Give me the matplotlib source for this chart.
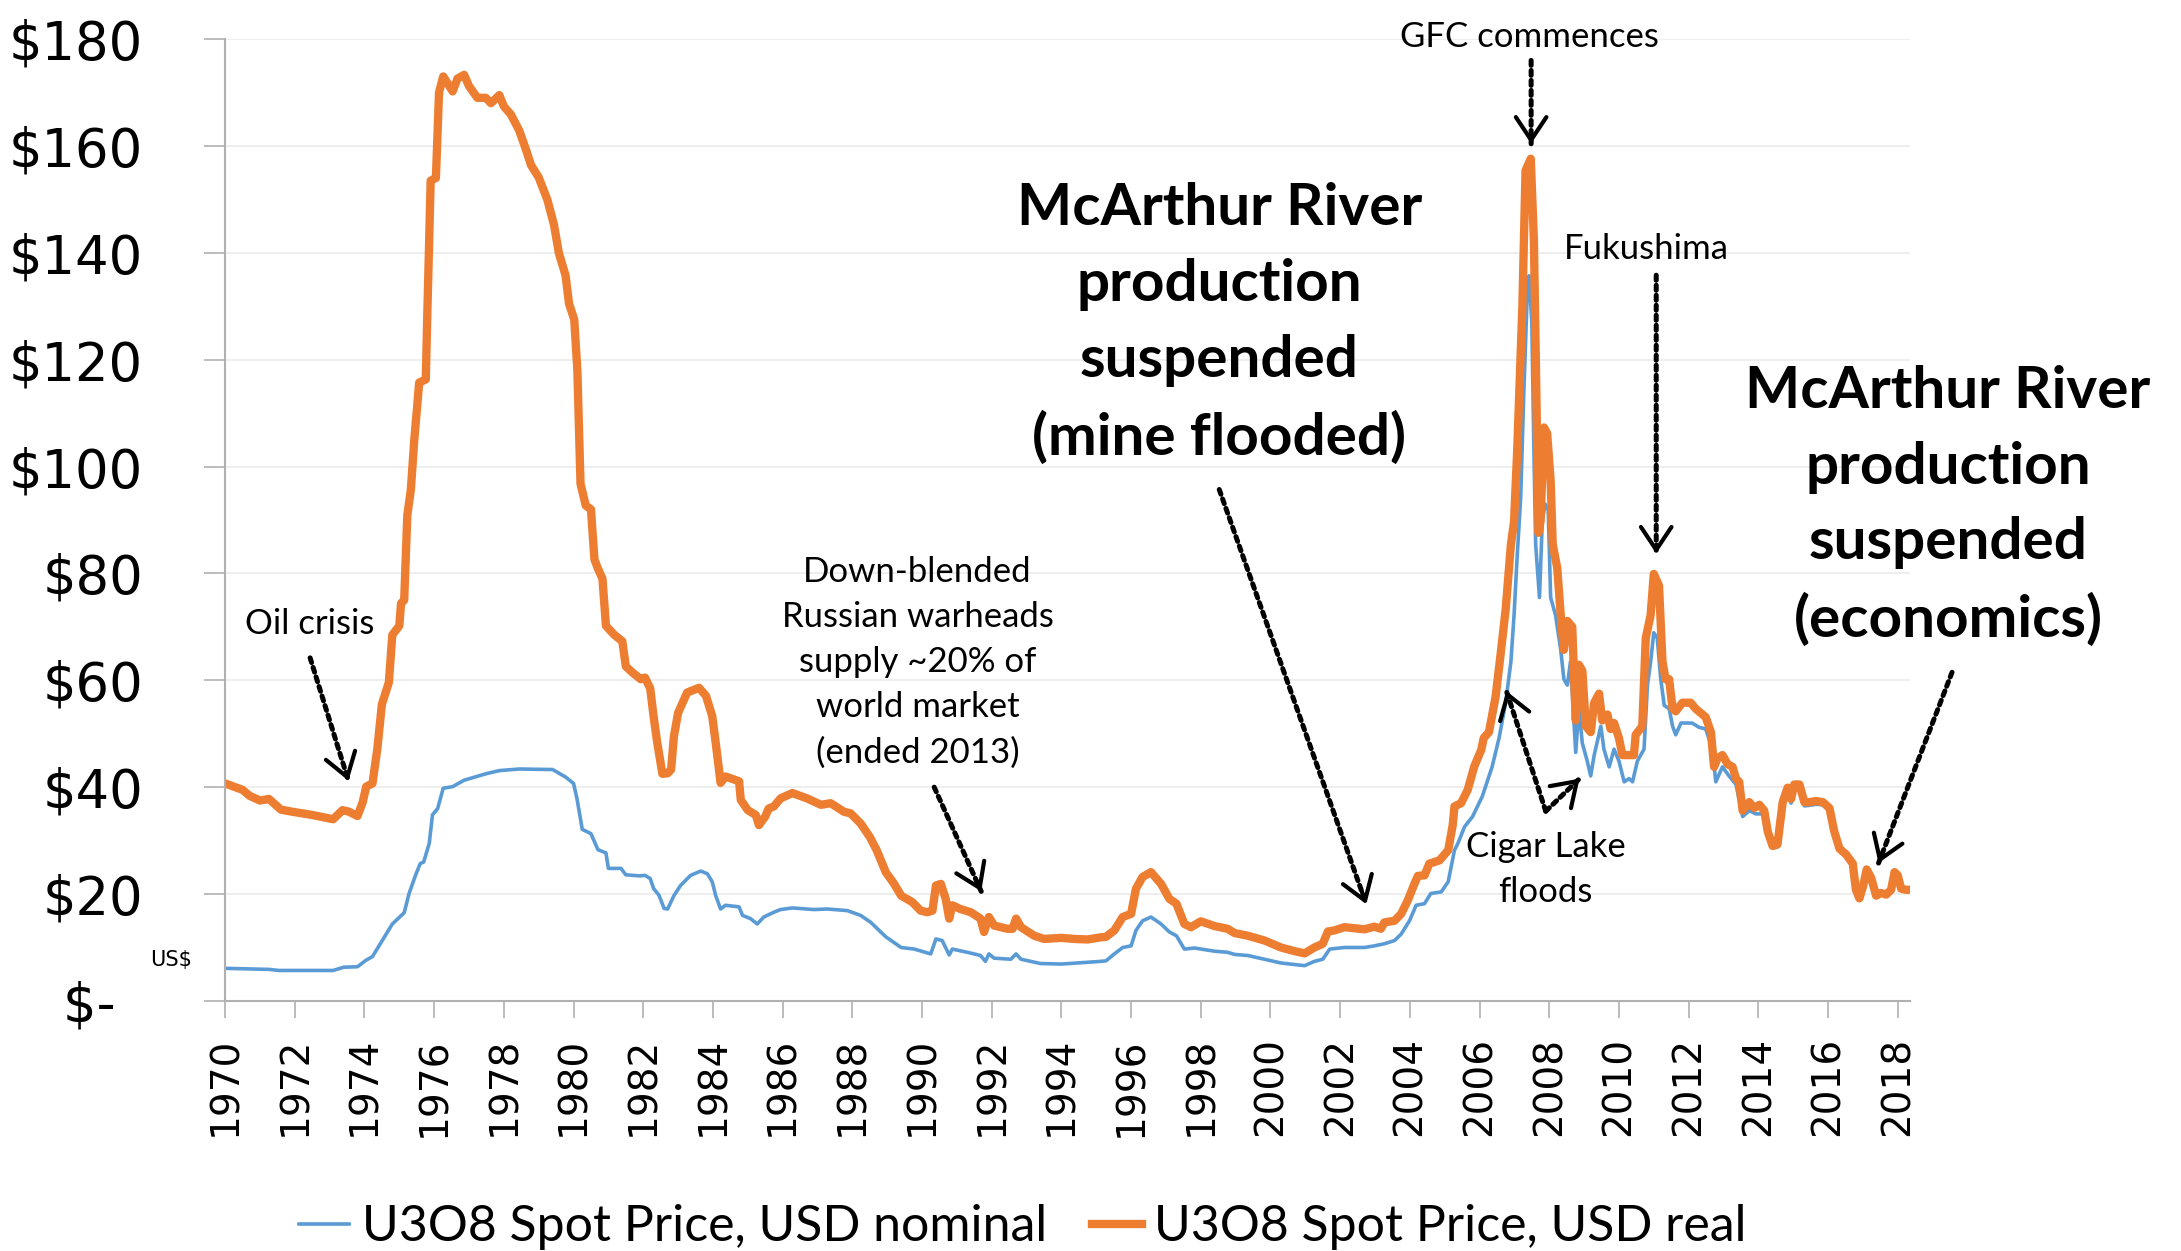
"""U3O8 spot price, nominal vs real, 1970-2018, with event annotations."""
import matplotlib

matplotlib.use("Agg")
import matplotlib.pyplot as plt
from matplotlib.ticker import FixedLocator

# ---- data ----
real_years = [
    1970.0, 1970.5, 1970.7, 1971.0, 1971.26, 1971.6, 1971.93, 1972.5, 1973.1, 1973.37,
    1973.56, 1973.8, 1973.95, 1974.05, 1974.23, 1974.37, 1974.5, 1974.7, 1974.8, 1975.0,
    1975.05, 1975.14, 1975.23, 1975.33, 1975.43, 1975.57, 1975.76, 1975.8, 1975.9, 1976.05,
    1976.14, 1976.26, 1976.53, 1976.67, 1976.86, 1977.0, 1977.24, 1977.48, 1977.63, 1977.87,
    1978.0, 1978.2, 1978.44, 1978.63, 1978.78, 1979.0, 1979.25, 1979.44, 1979.58, 1979.77,
    1979.87, 1980.02, 1980.11, 1980.2, 1980.35, 1980.5, 1980.6, 1980.7, 1980.83, 1980.93,
    1981.17, 1981.4, 1981.5, 1981.7, 1981.93, 1982.05, 1982.2, 1982.3, 1982.4, 1982.55,
    1982.7, 1982.8, 1982.88, 1983.0, 1983.26, 1983.6, 1983.8, 1983.98, 1984.08, 1984.22,
    1984.36, 1984.75, 1984.8, 1985.0, 1985.23, 1985.32, 1985.5, 1985.6, 1985.75, 1985.94,
    1986.28, 1986.7, 1987.1, 1987.38, 1987.76, 1987.95, 1988.24, 1988.5, 1988.7, 1988.96,
    1989.2, 1989.4, 1989.72, 1989.96, 1990.15, 1990.3, 1990.4, 1990.54, 1990.68, 1990.78,
    1990.87, 1991.1, 1991.4, 1991.68, 1991.78, 1991.92, 1992.07, 1992.45, 1992.6, 1992.7,
    1992.84, 1993.22, 1993.5, 1994.0, 1994.36, 1994.75, 1995.13, 1995.28, 1995.52, 1995.76,
    1996.0, 1996.14, 1996.33, 1996.57, 1996.86, 1997.1, 1997.3, 1997.53, 1997.72, 1998.0,
    1998.4, 1998.77, 1998.97, 1999.35, 1999.83, 2000.3, 2000.7, 2000.98, 2001.26, 2001.5,
    2001.65, 2001.84, 2002.12, 2002.7, 2002.98, 2003.17, 2003.27, 2003.56, 2003.75, 2003.94,
    2004.13, 2004.23, 2004.42, 2004.56, 2004.85, 2005.1, 2005.23, 2005.28, 2005.47, 2005.66,
    2005.85, 2006.05, 2006.12, 2006.27, 2006.46, 2006.6, 2006.75, 2006.9, 2006.99, 2007.08,
    2007.23, 2007.32, 2007.47, 2007.56, 2007.63, 2007.69, 2007.75, 2007.85, 2007.94, 2008.04,
    2008.1, 2008.23, 2008.33, 2008.42, 2008.52, 2008.66, 2008.76, 2008.85, 2008.95, 2009.05,
    2009.19, 2009.29, 2009.43, 2009.52, 2009.67, 2009.76, 2009.86, 2010.0, 2010.1, 2010.29,
    2010.43, 2010.48, 2010.67, 2010.77, 2010.91, 2011.0, 2011.15, 2011.25, 2011.34, 2011.44,
    2011.54, 2011.63, 2011.82, 2012.06, 2012.2, 2012.49, 2012.64, 2012.73, 2012.83, 2012.97,
    2013.12, 2013.26, 2013.36, 2013.45, 2013.55, 2013.74, 2013.88, 2014.03, 2014.17, 2014.27,
    2014.41, 2014.55, 2014.7, 2014.84, 2014.94, 2015.03, 2015.18, 2015.32, 2015.46, 2015.66,
    2015.85, 2016.04, 2016.18, 2016.33, 2016.52, 2016.71, 2016.8, 2016.9, 2017.0, 2017.11,
    2017.24, 2017.38, 2017.52, 2017.67, 2017.81, 2017.91, 2018.0, 2018.1, 2018.24, 2018.33,
]
real_usd = [
    40.7, 39.5, 38.4, 37.5, 37.8, 35.8, 35.4, 34.8, 34.0, 35.7,
    35.4, 34.6, 37.2, 40.1, 40.7, 47.2, 55.5, 59.6, 68.5, 70.2,
    74.4, 75.0, 90.9, 95.6, 105.0, 115.7, 116.3, 127.5, 153.5, 154.0,
    170.0, 173.0, 170.2, 172.6, 173.3, 171.2, 169.0, 169.0, 168.0, 169.5,
    167.4, 165.9, 162.9, 159.4, 156.4, 154.1, 149.9, 145.2, 139.9, 135.8,
    130.5, 127.5, 118.0, 96.8, 92.7, 92.0, 82.6, 80.9, 79.0, 70.2,
    68.5, 67.3, 62.6, 61.4, 60.2, 60.5, 58.5, 53.1, 48.4, 42.5,
    42.6, 43.3, 49.5, 53.9, 57.7, 58.6, 57.1, 53.3, 48.3, 40.8,
    42.0, 41.1, 37.6, 35.7, 34.8, 32.9, 34.5, 36.0, 36.4, 37.9,
    38.9, 37.9, 36.7, 37.0, 35.4, 35.1, 33.2, 30.7, 28.2, 24.1,
    21.9, 19.7, 18.5, 16.9, 16.6, 16.9, 21.6, 21.9, 19.1, 15.4,
    17.9, 17.2, 16.6, 15.4, 12.9, 15.7, 14.1, 13.5, 13.5, 15.4,
    13.8, 12.2, 11.6, 11.8, 11.6, 11.5, 11.9, 12.0, 13.2, 15.7,
    16.3, 21.0, 23.2, 24.1, 21.9, 19.1, 18.2, 14.4, 13.8, 14.9,
    14.0, 13.5, 12.7, 12.2, 11.3, 10.0, 9.3, 8.9, 10.0, 10.7,
    13.0, 13.2, 13.8, 13.4, 13.9, 13.5, 14.7, 15.0, 16.3, 18.8,
    21.9, 23.4, 23.5, 25.7, 26.3, 28.2, 32.9, 36.4, 37.0, 39.5,
    43.9, 47.0, 49.2, 50.3, 56.9, 64.6, 73.3, 85.4, 89.7, 102.9,
    130.2, 155.4, 157.6, 142.3, 113.8, 87.6, 89.7, 107.3, 106.2, 97.4,
    85.4, 81.0, 72.2, 65.7, 71.1, 70.0, 52.5, 62.9, 61.8, 51.4,
    50.3, 55.8, 57.5, 52.5, 53.6, 50.9, 52.0, 49.2, 46.0, 46.0,
    46.0, 49.8, 51.4, 67.9, 72.2, 79.9, 77.7, 63.5, 60.2, 60.2,
    54.7, 54.2, 55.8, 55.8, 54.7, 53.1, 50.3, 43.8, 45.4, 46.0,
    44.3, 43.8, 41.6, 41.0, 35.6, 37.2, 36.1, 36.7, 35.6, 31.7,
    29.0, 29.3, 37.2, 39.9, 37.8, 40.5, 40.5, 37.2, 37.2, 37.4,
    37.2, 36.1, 31.7, 28.5, 27.4, 25.7, 20.8, 19.2, 21.3, 24.6,
    23.0, 19.7, 20.2, 19.9, 20.8, 24.1, 23.5, 21.0, 20.8, 20.8,
]

nominal_years = [
    1970.0, 1971.26, 1971.55, 1973.1, 1973.4, 1973.8, 1974.04, 1974.23, 1974.5, 1974.8,
    1975.14, 1975.28, 1975.47, 1975.6, 1975.7, 1975.86, 1975.95, 1976.1, 1976.26, 1976.53,
    1976.86, 1977.48, 1977.87, 1978.44, 1979.4, 1979.77, 1980.0, 1980.1, 1980.25, 1980.5,
    1980.7, 1980.93, 1981.0, 1981.36, 1981.5, 1981.9, 1982.05, 1982.2, 1982.3, 1982.45,
    1982.6, 1982.7, 1982.88, 1983.07, 1983.36, 1983.65, 1983.84, 1983.98, 1984.08, 1984.22,
    1984.36, 1984.75, 1984.85, 1985.08, 1985.27, 1985.46, 1985.75, 1985.94, 1986.28, 1986.9,
    1987.28, 1987.86, 1988.24, 1988.53, 1988.96, 1989.4, 1989.78, 1990.25, 1990.4, 1990.58,
    1990.78, 1990.87, 1991.3, 1991.68, 1991.82, 1991.92, 1992.07, 1992.55, 1992.7, 1992.84,
    1993.4, 1994.0, 1995.13, 1995.28, 1995.52, 1995.76, 1996.0, 1996.14, 1996.33, 1996.57,
    1996.86, 1997.1, 1997.3, 1997.53, 1997.82, 1998.4, 1998.77, 1998.97, 1999.35, 1999.83,
    2000.3, 2000.98, 2001.26, 2001.5, 2001.7, 2002.12, 2002.7, 2002.98, 2003.27, 2003.56,
    2003.75, 2003.99, 2004.18, 2004.42, 2004.6, 2004.9, 2005.1, 2005.28, 2005.38, 2005.57,
    2005.8, 2006.08, 2006.36, 2006.56, 2006.75, 2006.9, 2006.99, 2007.08, 2007.18, 2007.27,
    2007.37, 2007.42, 2007.5, 2007.56, 2007.61, 2007.72, 2007.8, 2007.88, 2007.97, 2008.04,
    2008.18, 2008.33, 2008.42, 2008.52, 2008.61, 2008.76, 2008.85, 2008.95, 2009.09, 2009.19,
    2009.29, 2009.48, 2009.57, 2009.72, 2009.86, 2010.0, 2010.15, 2010.29, 2010.39, 2010.53,
    2010.72, 2010.82, 2010.91, 2011.0, 2011.1, 2011.2, 2011.3, 2011.44, 2011.54, 2011.63,
    2011.78, 2012.1, 2012.3, 2012.49, 2012.68, 2012.78, 2012.97, 2013.16, 2013.36, 2013.55,
    2013.74, 2013.93, 2014.12, 2014.27, 2014.41, 2014.55, 2014.7, 2014.84, 2014.94, 2015.03,
    2015.18, 2015.32, 2015.46, 2015.66, 2015.85, 2016.04, 2016.18, 2016.33, 2016.52, 2016.71,
    2016.8, 2016.9, 2017.0, 2017.11, 2017.24, 2017.38, 2017.52, 2017.67, 2017.81, 2017.91,
    2018.0, 2018.1, 2018.24, 2018.33,
]
nominal_usd = [
    6.1, 5.9, 5.7, 5.7, 6.3, 6.4, 7.6, 8.3, 11.2, 14.4,
    16.5, 20.1, 23.6, 25.7, 26.0, 29.5, 34.8, 36.0, 39.8, 40.1,
    41.3, 42.5, 43.1, 43.4, 43.3, 41.9, 40.7, 37.8, 32.1, 31.3,
    28.3, 27.7, 24.8, 24.8, 23.6, 23.4, 23.5, 22.9, 21.0, 19.8,
    17.3, 17.2, 19.7, 21.6, 23.5, 24.3, 23.8, 22.3, 19.7, 17.2,
    17.9, 17.6, 16.0, 15.4, 14.4, 15.7, 16.6, 17.1, 17.4, 17.1,
    17.2, 16.9, 16.0, 14.7, 12.0, 10.0, 9.7, 8.8, 11.6, 11.3,
    8.6, 9.7, 9.1, 8.5, 7.4, 8.8, 8.0, 7.8, 8.8, 7.8,
    7.0, 6.9, 7.4, 7.5, 8.8, 10.0, 10.3, 13.2, 15.0, 15.7,
    14.4, 12.9, 12.2, 9.7, 9.9, 9.3, 9.1, 8.7, 8.5, 7.8,
    7.1, 6.6, 7.4, 7.8, 9.7, 10.0, 10.0, 10.3, 10.7, 11.3,
    12.5, 15.0, 17.9, 18.2, 20.1, 20.4, 22.3, 28.2, 29.5, 32.6,
    34.5, 38.3, 43.8, 49.2, 55.8, 63.5, 72.2, 83.2, 94.1, 113.8,
    132.4, 135.7, 127.0, 102.9, 85.4, 75.5, 89.7, 93.0, 91.9, 75.5,
    72.2, 65.7, 60.2, 59.1, 63.5, 46.5, 54.7, 48.2, 44.9, 42.1,
    46.0, 51.4, 47.1, 43.8, 47.1, 44.9, 41.0, 41.6, 41.0, 44.9,
    47.1, 59.1, 63.5, 68.9, 67.9, 60.2, 55.3, 54.7, 51.4, 49.8,
    52.0, 52.0, 51.2, 50.9, 47.1, 41.0, 43.8, 42.1, 40.5, 34.5,
    35.6, 35.0, 35.0, 31.0, 28.6, 28.8, 36.2, 38.9, 37.0, 39.5,
    39.6, 36.5, 36.6, 36.8, 36.7, 35.7, 31.4, 28.2, 27.1, 25.5,
    20.6, 19.0, 21.1, 24.4, 22.8, 19.6, 20.1, 19.8, 20.7, 24.0,
    23.4, 20.9, 20.8, 20.8,
]

year_ticks = list(range(1970, 2019, 2))
price_ticks = [0, 20, 40, 60, 80, 100, 120, 140, 160, 180]
price_labels = ["$-\u2009 ", "$20", "$40", "$60", "$80", "$100", "$120", "$140", "$160", "$180"]

BLUE = "#5B9BD5"
ORANGE = "#ED7D31"
ANNOT_FONT = ["Lato", "DejaVu Sans"]


def dotted_arrow(ax, start, end):
    ax.annotate("", xy=end, xytext=start,
                arrowprops=dict(arrowstyle="-", linestyle=(0, (1, 1)), lw=3.6,
                                color="black", shrinkA=0, shrinkB=0))
    near = (start[0] + 0.97 * (end[0] - start[0]), start[1] + 0.97 * (end[1] - start[1]))
    ax.annotate("", xy=end, xytext=near,
                arrowprops=dict(arrowstyle="->,head_length=0.75,head_width=0.5", lw=3.0,
                                color="black", shrinkA=0, shrinkB=0, mutation_scale=22))


fig = plt.figure(figsize=(21.81, 12.51), dpi=100)
ax = fig.add_axes([0.1032, 0.1999, 0.7725, 0.7689])

ax.plot(nominal_years, nominal_usd, color=BLUE, lw=2.6, label="U3O8 Spot Price, USD nominal")
ax.plot(real_years, real_usd, color=ORANGE, lw=6, label="U3O8 Spot Price, USD real")

ax.set_xlim(1970, 2018.35)
ax.set_ylim(0, 180)
ax.xaxis.set_major_locator(FixedLocator(year_ticks))
ax.set_xticklabels([str(y) for y in year_ticks], rotation=90)
ax.yaxis.set_major_locator(FixedLocator(price_ticks))
ax.set_yticklabels(price_labels)

ax.grid(axis="y", color="#EBEBEB", lw=1.2)
ax.set_axisbelow(True)
for side in ("top", "right"):
    ax.spines[side].set_visible(False)
for side in ("left", "bottom"):
    ax.spines[side].set_color("#B0B0B0")
    ax.spines[side].set_linewidth(1.5)

ax.tick_params(axis="y", length=15, width=1.2, color="#B0B0B0", pad=44,
               labelsize=38, labelfontfamily="DejaVu Sans")
ax.tick_params(axis="x", length=12, width=1.2, color="#B0B0B0", pad=14,
               labelsize=28, labelfontfamily="DejaVu Sans")

fig.text(0.0784, 0.2326, "US$", fontsize=15, ha="center", va="center")

# small annotations
small = dict(fontsize=25, family=ANNOT_FONT, ha="center", va="center", linespacing=1.5)
ax.text(1972.43, 70.5, "Oil crisis", **small)
dotted_arrow(ax, (1972.44, 64.2), (1973.54, 41.2))

ax.text(1989.87, 63.3, "Down-blended\nRussian warheads\nsupply ~20% of\nworld market\n(ended 2013)", **small)
dotted_arrow(ax, (1990.35, 40.0), (1991.7, 20.5))

ax.text(2007.43, 180.3, "GFC commences", **small)
dotted_arrow(ax, (2007.48, 176.0), (2007.48, 160.4))

ax.text(2010.78, 140.7, "Fukushima", **small)
dotted_arrow(ax, (2011.07, 135.8), (2011.07, 83.7))

ax.text(2007.9, 24.6, "Cigar Lake\nfloods", **small)
dotted_arrow(ax, (2007.9, 35.5), (2006.77, 58.0))
dotted_arrow(ax, (2007.9, 35.5), (2008.87, 41.6))

# large bold annotations
big = dict(fontsize=42, fontweight="bold", family=ANNOT_FONT, ha="center", va="center",
           linespacing=1.53)
ax.text(1998.53, 126.8, "McArthur River\nproduction\nsuspended\n(mine flooded)", **big)
dotted_arrow(ax, (1998.53, 95.7), (2002.75, 18.1))

ax.text(2019.44, 92.6, "McArthur River\nproduction\nsuspended\n(economics)", **big)
dotted_arrow(ax, (2019.56, 61.5), (2017.45, 25.8))

fig.legend(loc="center", bbox_to_anchor=(0.469, 0.019), ncol=2, frameon=False,
           prop={"family": ANNOT_FONT, "size": 36}, handlelength=1.0, handletextpad=0.25,
           columnspacing=0.9)

fig.savefig("out.png", dpi=100, facecolor="white")
